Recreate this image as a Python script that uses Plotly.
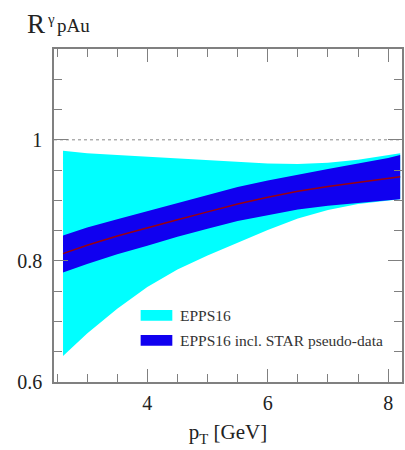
import plotly.graph_objects as go

pt = [2.6, 3.0, 3.5, 4.0, 4.5, 5.0, 5.5, 6.0, 6.5, 7.0, 7.5, 8.0, 8.2]
epps_hi = [0.982, 0.978, 0.975, 0.972, 0.969, 0.966, 0.963, 0.961, 0.960, 0.962, 0.967, 0.974, 0.978]
epps_lo = [0.643, 0.680, 0.721, 0.757, 0.786, 0.809, 0.830, 0.851, 0.870, 0.884, 0.894, 0.900, 0.902]
star_hi = [0.842, 0.855, 0.869, 0.882, 0.896, 0.909, 0.922, 0.933, 0.943, 0.952, 0.961, 0.970, 0.975]
star_lo = [0.781, 0.795, 0.811, 0.825, 0.840, 0.853, 0.866, 0.876, 0.885, 0.891, 0.896, 0.900, 0.902]
central = [0.812, 0.826, 0.841, 0.855, 0.868, 0.881, 0.894, 0.905, 0.915, 0.923, 0.930, 0.937, 0.939]

legend_names = ["EPPS16", "EPPS16 incl. STAR pseudo-data"]
cyan = "#00ffff"
blue = "#1000f0"
SERIF = "Times New Roman, Liberation Serif, DejaVu Serif, serif"

fig = go.Figure()
fig.add_trace(go.Scatter(x=pt + pt[::-1], y=epps_hi + epps_lo[::-1], fill="toself",
                         fillcolor=cyan, line=dict(width=0), mode="lines",
                         showlegend=False, hoverinfo="skip"))
fig.add_trace(go.Scatter(x=pt + pt[::-1], y=star_hi + star_lo[::-1], fill="toself",
                         fillcolor=blue, line=dict(width=0), mode="lines",
                         showlegend=False, hoverinfo="skip"))
fig.add_trace(go.Scatter(x=pt, y=central, mode="lines",
                         line=dict(color="#9a0010", width=1.5), showlegend=False))

# dotted unity line
fig.add_shape(type="line", xref="paper", x0=0, x1=1, yref="y", y0=1, y1=1,
              line=dict(color="#888888", width=1, dash="dot"), layer="below")

# legend (swatches + labels)
legend_y = [0.2, 0.125]
for name, col, ly in zip(legend_names, [cyan, blue], legend_y):
    fig.add_shape(type="rect", xref="paper", yref="paper",
                  x0=0.249, x1=0.34, y0=ly - 0.016, y1=ly + 0.016,
                  fillcolor=col, line=dict(width=0))
    fig.add_annotation(xref="paper", yref="paper", x=0.355, y=ly, text=name,
                       showarrow=False, xanchor="left", yanchor="middle",
                       font=dict(family=SERIF, size=15.5, color="#333333"))

# y title pieces (pixel-placed relative to plot area)
title_parts = [("R", 36, 24, 27), ("γ", 51, 19, 15), ("pAu", 74, 25, 19)]
for txt, cx, cy, fs in title_parts:
    fig.add_annotation(xref="paper", yref="paper", x=(cx - 54) / 350, y=1 + (49 - cy) / 333,
                       xanchor="center", yanchor="middle", text=txt, showarrow=False,
                       font=dict(family=SERIF, size=fs, color="#222222"))

axis_font = dict(family=SERIF, size=20, color="#222222")
fig.update_layout(
    width=405, height=450,
    margin=dict(l=54, r=1, t=49, b=68),
    paper_bgcolor="white", plot_bgcolor="white",
    font=dict(family=SERIF),
    xaxis=dict(range=[2.45, 8.23], tickvals=[4, 6, 8], ticks="inside", ticklen=13,
               tickcolor="#808080", showline=True, linecolor="#808080", linewidth=1.5,
               mirror="ticks", showgrid=False, zeroline=False, tickfont=axis_font,
               ticklabelstandoff=2,
               minor=dict(dtick=0.5, tick0=0, ticks="inside", ticklen=8, tickcolor="#808080",
                          showgrid=False),
               title=dict(text="p<sub>T</sub> [GeV]", font=dict(family=SERIF, size=21,
                                                              color="#222222"), standoff=12)),
    yaxis=dict(range=[0.6, 1.15], tickvals=[0.6, 0.8, 1.0], ticktext=["0.6", "0.8", "1"],
               ticks="inside", ticklen=14, tickcolor="#808080", showline=True,
               linecolor="#808080", linewidth=1.5, mirror="ticks", showgrid=False,
               zeroline=False, tickfont=axis_font, ticklabelstandoff=6,
               minor=dict(dtick=0.05, tick0=0, ticks="inside", ticklen=8, tickcolor="#808080",
                          showgrid=False)),
)

fig.write_html("out.html")
